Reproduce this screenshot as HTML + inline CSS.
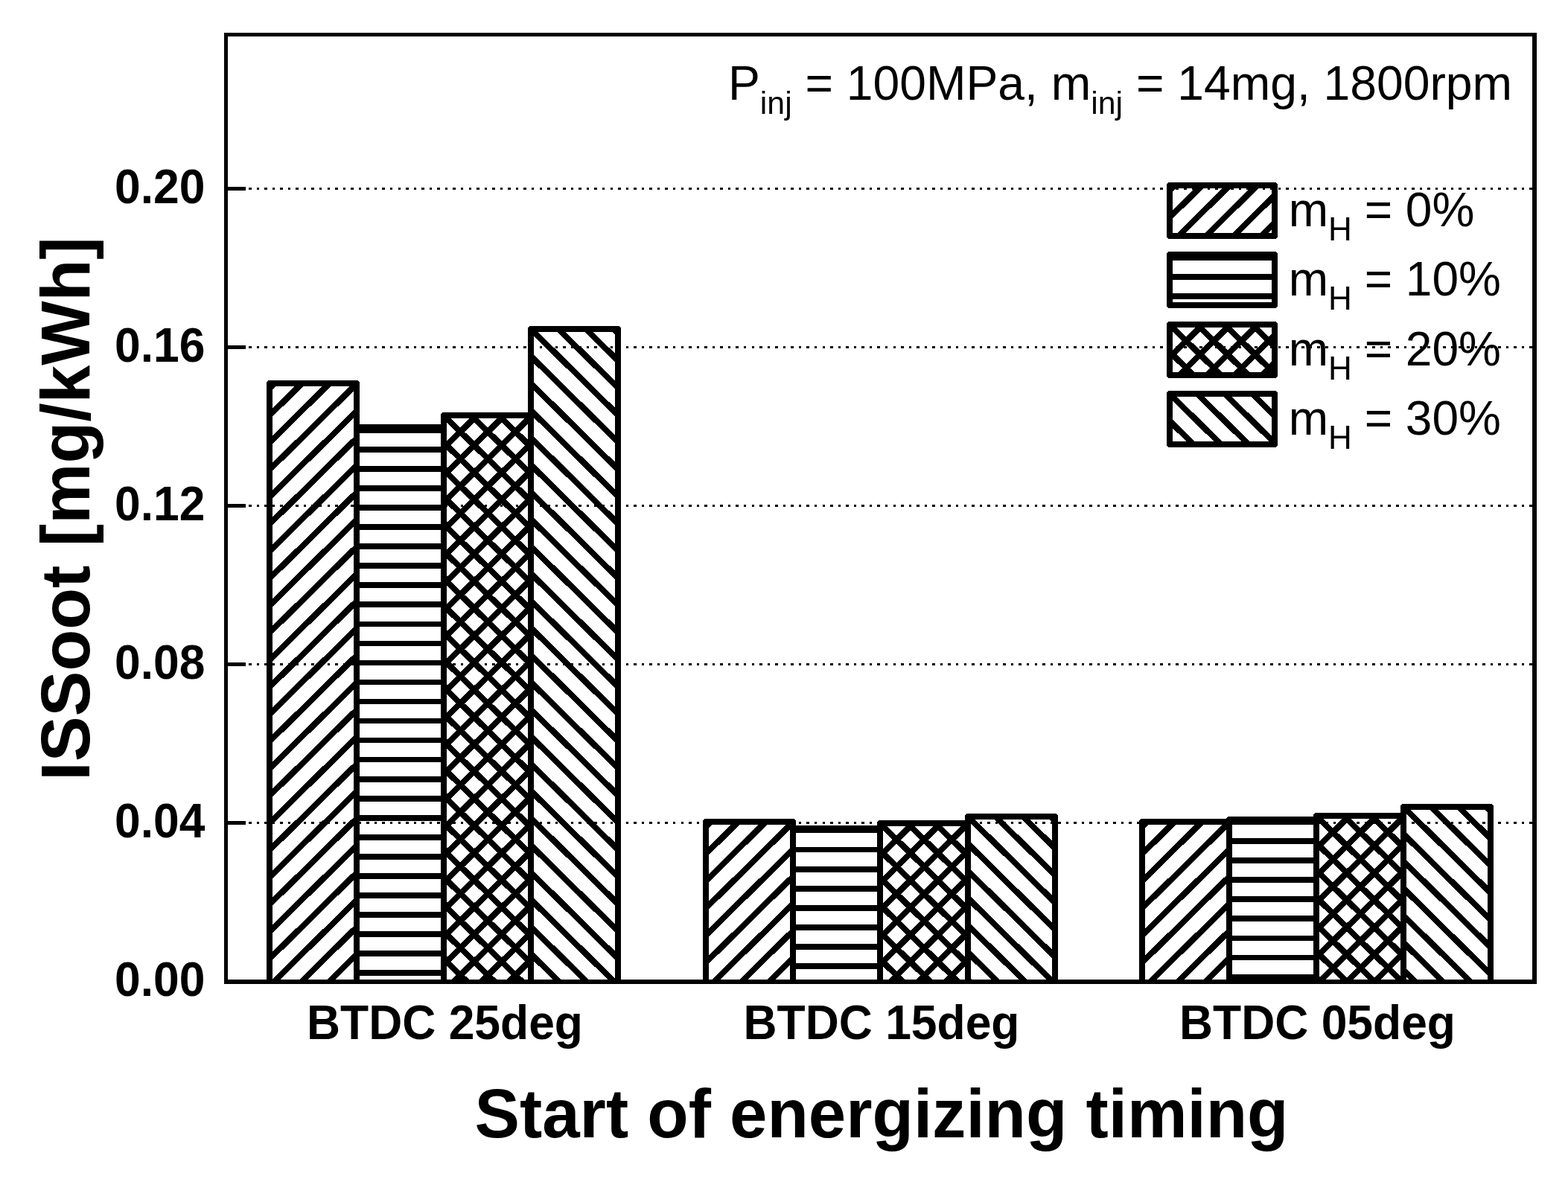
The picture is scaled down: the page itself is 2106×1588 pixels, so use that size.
<!DOCTYPE html>
<html><head><meta charset="utf-8"><title>ISSoot chart</title>
<style>
html,body{margin:0;padding:0;background:#fff;width:2106px;height:1588px;overflow:hidden}
svg{display:block}
.ce path,.ce rect,.ce line{shape-rendering:crispEdges}
.b{font-family:"Liberation Sans",Arial,sans-serif;font-weight:bold;fill:#000}
.r{font-family:"Liberation Sans",Arial,sans-serif;font-weight:normal;fill:#000}
</style></head><body>
<svg class="ce" width="2106" height="1588" viewBox="0 0 2106 1588"><defs><clipPath id="c1"><rect x="362.00" y="515.00" width="117.00" height="804.00"/></clipPath><clipPath id="c2"><rect x="479.00" y="574.00" width="117.00" height="745.00"/></clipPath><clipPath id="c3"><rect x="596.00" y="558.00" width="117.00" height="761.00"/></clipPath><clipPath id="c4"><rect x="713.00" y="442.00" width="117.00" height="877.00"/></clipPath><clipPath id="c5"><rect x="948.00" y="1104.00" width="117.00" height="215.00"/></clipPath><clipPath id="c6"><rect x="1065.00" y="1113.00" width="117.00" height="206.00"/></clipPath><clipPath id="c7"><rect x="1182.00" y="1106.00" width="118.00" height="213.00"/></clipPath><clipPath id="c8"><rect x="1300.00" y="1097.00" width="117.00" height="222.00"/></clipPath><clipPath id="c9"><rect x="1534.00" y="1104.00" width="117.00" height="215.00"/></clipPath><clipPath id="c10"><rect x="1651.00" y="1101.00" width="117.00" height="218.00"/></clipPath><clipPath id="c11"><rect x="1768.00" y="1096.00" width="117.00" height="223.00"/></clipPath><clipPath id="c12"><rect x="1885.00" y="1084.00" width="117.00" height="235.00"/></clipPath><clipPath id="c13"><rect x="1571.00" y="249.00" width="141.00" height="68.00"/></clipPath><clipPath id="c14"><rect x="1571.00" y="342.00" width="141.00" height="68.00"/></clipPath><clipPath id="c15"><rect x="1571.00" y="436.00" width="141.00" height="68.00"/></clipPath><clipPath id="c16"><rect x="1571.00" y="529.00" width="141.00" height="68.00"/></clipPath></defs><rect width="2106" height="1588" fill="#fff"/><path clip-path="url(#c1)" d="M335.30 475.00L-560.81 1359.00M372.30 475.00L-523.81 1359.00M409.30 475.00L-486.81 1359.00M446.30 475.00L-449.81 1359.00M483.30 475.00L-412.81 1359.00M520.30 475.00L-375.81 1359.00M557.30 475.00L-338.81 1359.00M594.30 475.00L-301.81 1359.00M631.30 475.00L-264.81 1359.00M668.30 475.00L-227.81 1359.00M705.30 475.00L-190.81 1359.00M742.30 475.00L-153.81 1359.00M779.30 475.00L-116.81 1359.00M816.30 475.00L-79.81 1359.00M853.30 475.00L-42.81 1359.00M890.30 475.00L-5.81 1359.00M927.30 475.00L31.19 1359.00M964.30 475.00L68.19 1359.00M1001.30 475.00L105.19 1359.00M1038.30 475.00L142.19 1359.00M1075.30 475.00L179.19 1359.00M1112.30 475.00L216.19 1359.00M1149.30 475.00L253.19 1359.00M1186.30 475.00L290.19 1359.00M1223.30 475.00L327.19 1359.00M1260.30 475.00L364.19 1359.00M1297.30 475.00L401.19 1359.00M1334.30 475.00L438.19 1359.00M1371.30 475.00L475.19 1359.00M1408.30 475.00L512.19 1359.00" stroke="#000" stroke-width="8.00" fill="none"/>
<path d="M362.00 1319.00V515.00H479.00V1319.00" fill="none" stroke="#000" stroke-width="8.0" stroke-linejoin="round"/>
<path clip-path="url(#c2)" d="M469.00 525.70H606.00M469.00 551.75H606.00M469.00 577.80H606.00M469.00 603.85H606.00M469.00 629.90H606.00M469.00 655.95H606.00M469.00 682.00H606.00M469.00 708.05H606.00M469.00 734.10H606.00M469.00 760.15H606.00M469.00 786.20H606.00M469.00 812.25H606.00M469.00 838.30H606.00M469.00 864.35H606.00M469.00 890.40H606.00M469.00 916.45H606.00M469.00 942.50H606.00M469.00 968.55H606.00M469.00 994.60H606.00M469.00 1020.65H606.00M469.00 1046.70H606.00M469.00 1072.75H606.00M469.00 1098.80H606.00M469.00 1124.85H606.00M469.00 1150.90H606.00M469.00 1176.95H606.00M469.00 1203.00H606.00M469.00 1229.05H606.00M469.00 1255.10H606.00M469.00 1281.15H606.00M469.00 1307.20H606.00M469.00 1333.25H606.00M469.00 1359.30H606.00" stroke="#000" stroke-width="7.60" fill="none"/>
<path d="M479.00 1319.00V574.00H596.00V1319.00" fill="none" stroke="#000" stroke-width="8.0" stroke-linejoin="round"/>
<path clip-path="url(#c3)" d="M570.22 518.00L-282.30 1359.00M607.22 518.00L-245.30 1359.00M644.22 518.00L-208.30 1359.00M681.22 518.00L-171.30 1359.00M718.22 518.00L-134.30 1359.00M755.22 518.00L-97.30 1359.00M792.22 518.00L-60.30 1359.00M829.22 518.00L-23.30 1359.00M866.22 518.00L13.70 1359.00M903.22 518.00L50.70 1359.00M940.22 518.00L87.70 1359.00M977.22 518.00L124.70 1359.00M1014.22 518.00L161.70 1359.00M1051.22 518.00L198.70 1359.00M1088.22 518.00L235.70 1359.00M1125.22 518.00L272.70 1359.00M1162.22 518.00L309.70 1359.00M1199.22 518.00L346.70 1359.00M1236.22 518.00L383.70 1359.00M1273.22 518.00L420.70 1359.00M1310.22 518.00L457.70 1359.00M1347.22 518.00L494.70 1359.00M1384.22 518.00L531.70 1359.00M1421.22 518.00L568.70 1359.00M1458.22 518.00L605.70 1359.00M1495.22 518.00L642.70 1359.00M1532.22 518.00L679.70 1359.00M1569.22 518.00L716.70 1359.00M-258.57 518.00L593.95 1359.00M-221.57 518.00L630.95 1359.00M-184.57 518.00L667.95 1359.00M-147.57 518.00L704.95 1359.00M-110.57 518.00L741.95 1359.00M-73.57 518.00L778.95 1359.00M-36.57 518.00L815.95 1359.00M0.43 518.00L852.95 1359.00M37.43 518.00L889.95 1359.00M74.43 518.00L926.95 1359.00M111.43 518.00L963.95 1359.00M148.43 518.00L1000.95 1359.00M185.43 518.00L1037.95 1359.00M222.43 518.00L1074.95 1359.00M259.43 518.00L1111.95 1359.00M296.43 518.00L1148.95 1359.00M333.43 518.00L1185.95 1359.00M370.43 518.00L1222.95 1359.00M407.43 518.00L1259.95 1359.00M444.43 518.00L1296.95 1359.00M481.43 518.00L1333.95 1359.00M518.43 518.00L1370.95 1359.00M555.43 518.00L1407.95 1359.00M592.42 518.00L1444.95 1359.00M629.42 518.00L1481.95 1359.00M666.42 518.00L1518.95 1359.00M703.43 518.00L1555.95 1359.00M740.43 518.00L1592.95 1359.00" stroke="#000" stroke-width="8.00" fill="none"/>
<path d="M596.00 1319.00V558.00H713.00V1319.00" fill="none" stroke="#000" stroke-width="8.0" stroke-linejoin="round"/>
<path clip-path="url(#c4)" d="M-289.58 402.00L680.53 1359.00M-252.58 402.00L717.53 1359.00M-215.58 402.00L754.53 1359.00M-178.58 402.00L791.53 1359.00M-141.58 402.00L828.53 1359.00M-104.58 402.00L865.53 1359.00M-67.58 402.00L902.53 1359.00M-30.58 402.00L939.53 1359.00M6.42 402.00L976.53 1359.00M43.42 402.00L1013.53 1359.00M80.42 402.00L1050.53 1359.00M117.42 402.00L1087.53 1359.00M154.42 402.00L1124.53 1359.00M191.42 402.00L1161.53 1359.00M228.42 402.00L1198.53 1359.00M265.42 402.00L1235.53 1359.00M302.42 402.00L1272.53 1359.00M339.42 402.00L1309.53 1359.00M376.42 402.00L1346.53 1359.00M413.42 402.00L1383.53 1359.00M450.42 402.00L1420.53 1359.00M487.42 402.00L1457.53 1359.00M524.42 402.00L1494.53 1359.00M561.42 402.00L1531.53 1359.00M598.42 402.00L1568.53 1359.00M635.42 402.00L1605.53 1359.00M672.42 402.00L1642.53 1359.00M709.42 402.00L1679.53 1359.00M746.42 402.00L1716.53 1359.00M783.42 402.00L1753.53 1359.00M820.42 402.00L1790.53 1359.00M857.42 402.00L1827.53 1359.00" stroke="#000" stroke-width="8.00" fill="none"/>
<path d="M713.00 1319.00V442.00H830.00V1319.00" fill="none" stroke="#000" stroke-width="8.0" stroke-linejoin="round"/>
<path clip-path="url(#c5)" d="M921.30 1064.00L622.26 1359.00M958.30 1064.00L659.26 1359.00M995.30 1064.00L696.26 1359.00M1032.30 1064.00L733.26 1359.00M1069.30 1064.00L770.26 1359.00M1106.30 1064.00L807.26 1359.00M1143.30 1064.00L844.26 1359.00M1180.30 1064.00L881.26 1359.00M1217.30 1064.00L918.26 1359.00M1254.30 1064.00L955.26 1359.00M1291.30 1064.00L992.26 1359.00M1328.30 1064.00L1029.26 1359.00M1365.30 1064.00L1066.26 1359.00" stroke="#000" stroke-width="8.00" fill="none"/>
<path d="M948.00 1319.00V1104.00H1065.00V1319.00" fill="none" stroke="#000" stroke-width="8.0" stroke-linejoin="round"/>
<path clip-path="url(#c6)" d="M1055.00 1063.50H1192.00M1055.00 1089.55H1192.00M1055.00 1115.60H1192.00M1055.00 1141.65H1192.00M1055.00 1167.70H1192.00M1055.00 1193.75H1192.00M1055.00 1219.80H1192.00M1055.00 1245.85H1192.00M1055.00 1271.90H1192.00M1055.00 1297.95H1192.00M1055.00 1324.00H1192.00M1055.00 1350.05H1192.00" stroke="#000" stroke-width="7.60" fill="none"/>
<path d="M1065.00 1319.00V1113.00H1182.00V1319.00" fill="none" stroke="#000" stroke-width="8.0" stroke-linejoin="round"/>
<path clip-path="url(#c7)" d="M1156.22 1066.00L859.21 1359.00M1193.22 1066.00L896.21 1359.00M1230.22 1066.00L933.21 1359.00M1267.22 1066.00L970.21 1359.00M1304.23 1066.00L1007.21 1359.00M1341.23 1066.00L1044.21 1359.00M1378.23 1066.00L1081.21 1359.00M1415.23 1066.00L1118.21 1359.00M1452.23 1066.00L1155.21 1359.00M1489.23 1066.00L1192.21 1359.00M1526.23 1066.00L1229.21 1359.00M1563.23 1066.00L1266.21 1359.00M1600.23 1066.00L1303.21 1359.00M882.43 1066.00L1179.44 1359.00M919.43 1066.00L1216.44 1359.00M956.43 1066.00L1253.44 1359.00M993.43 1066.00L1290.44 1359.00M1030.43 1066.00L1327.44 1359.00M1067.43 1066.00L1364.44 1359.00M1104.43 1066.00L1401.44 1359.00M1141.43 1066.00L1438.44 1359.00M1178.43 1066.00L1475.44 1359.00M1215.43 1066.00L1512.44 1359.00M1252.43 1066.00L1549.44 1359.00M1289.43 1066.00L1586.44 1359.00M1326.43 1066.00L1623.44 1359.00" stroke="#000" stroke-width="8.00" fill="none"/>
<path d="M1182.00 1319.00V1106.00H1300.00V1319.00" fill="none" stroke="#000" stroke-width="8.0" stroke-linejoin="round"/>
<path clip-path="url(#c8)" d="M963.43 1057.00L1269.56 1359.00M1000.43 1057.00L1306.56 1359.00M1037.43 1057.00L1343.56 1359.00M1074.43 1057.00L1380.56 1359.00M1111.43 1057.00L1417.56 1359.00M1148.43 1057.00L1454.56 1359.00M1185.43 1057.00L1491.56 1359.00M1222.43 1057.00L1528.56 1359.00M1259.43 1057.00L1565.56 1359.00M1296.43 1057.00L1602.56 1359.00M1333.43 1057.00L1639.56 1359.00M1370.43 1057.00L1676.56 1359.00M1407.43 1057.00L1713.56 1359.00M1444.43 1057.00L1750.56 1359.00" stroke="#000" stroke-width="8.00" fill="none"/>
<path d="M1300.00 1319.00V1097.00H1417.00V1319.00" fill="none" stroke="#000" stroke-width="8.0" stroke-linejoin="round"/>
<path clip-path="url(#c9)" d="M1507.30 1064.00L1208.26 1359.00M1544.30 1064.00L1245.26 1359.00M1581.30 1064.00L1282.26 1359.00M1618.30 1064.00L1319.26 1359.00M1655.30 1064.00L1356.26 1359.00M1692.30 1064.00L1393.26 1359.00M1729.30 1064.00L1430.26 1359.00M1766.30 1064.00L1467.26 1359.00M1803.30 1064.00L1504.26 1359.00M1840.30 1064.00L1541.26 1359.00M1877.30 1064.00L1578.26 1359.00M1914.30 1064.00L1615.26 1359.00M1951.30 1064.00L1652.26 1359.00" stroke="#000" stroke-width="8.00" fill="none"/>
<path d="M1534.00 1319.00V1104.00H1651.00V1319.00" fill="none" stroke="#000" stroke-width="8.0" stroke-linejoin="round"/>
<path clip-path="url(#c10)" d="M1641.00 1051.90H1778.00M1641.00 1077.95H1778.00M1641.00 1104.00H1778.00M1641.00 1130.05H1778.00M1641.00 1156.10H1778.00M1641.00 1182.15H1778.00M1641.00 1208.20H1778.00M1641.00 1234.25H1778.00M1641.00 1260.30H1778.00M1641.00 1286.35H1778.00M1641.00 1312.40H1778.00M1641.00 1338.45H1778.00M1641.00 1364.50H1778.00" stroke="#000" stroke-width="7.60" fill="none"/>
<path d="M1651.00 1319.00V1101.00H1768.00V1319.00" fill="none" stroke="#000" stroke-width="8.0" stroke-linejoin="round"/>
<path clip-path="url(#c11)" d="M1742.23 1056.00L1435.07 1359.00M1779.23 1056.00L1472.07 1359.00M1816.23 1056.00L1509.07 1359.00M1853.23 1056.00L1546.07 1359.00M1890.23 1056.00L1583.07 1359.00M1927.23 1056.00L1620.07 1359.00M1964.23 1056.00L1657.07 1359.00M2001.23 1056.00L1694.07 1359.00M2038.23 1056.00L1731.07 1359.00M2075.23 1056.00L1768.07 1359.00M2112.23 1056.00L1805.07 1359.00M2149.23 1056.00L1842.07 1359.00M2186.23 1056.00L1879.07 1359.00M2223.23 1056.00L1916.07 1359.00M1431.43 1056.00L1738.58 1359.00M1468.43 1056.00L1775.58 1359.00M1505.43 1056.00L1812.58 1359.00M1542.43 1056.00L1849.58 1359.00M1579.43 1056.00L1886.58 1359.00M1616.43 1056.00L1923.58 1359.00M1653.43 1056.00L1960.58 1359.00M1690.43 1056.00L1997.58 1359.00M1727.43 1056.00L2034.58 1359.00M1764.43 1056.00L2071.58 1359.00M1801.43 1056.00L2108.58 1359.00M1838.43 1056.00L2145.58 1359.00M1875.43 1056.00L2182.58 1359.00M1912.43 1056.00L2219.58 1359.00" stroke="#000" stroke-width="8.00" fill="none"/>
<path d="M1768.00 1319.00V1096.00H1885.00V1319.00" fill="none" stroke="#000" stroke-width="8.0" stroke-linejoin="round"/>
<path clip-path="url(#c12)" d="M1548.43 1044.00L1867.74 1359.00M1585.43 1044.00L1904.74 1359.00M1622.43 1044.00L1941.74 1359.00M1659.43 1044.00L1978.74 1359.00M1696.43 1044.00L2015.74 1359.00M1733.43 1044.00L2052.74 1359.00M1770.43 1044.00L2089.74 1359.00M1807.43 1044.00L2126.74 1359.00M1844.43 1044.00L2163.74 1359.00M1881.43 1044.00L2200.74 1359.00M1918.43 1044.00L2237.74 1359.00M1955.43 1044.00L2274.74 1359.00M1992.43 1044.00L2311.74 1359.00M2029.43 1044.00L2348.74 1359.00" stroke="#000" stroke-width="8.00" fill="none"/>
<path d="M1885.00 1319.00V1084.00H2002.00V1319.00" fill="none" stroke="#000" stroke-width="8.0" stroke-linejoin="round"/>
<path clip-path="url(#c13)" d="M1544.30 209.00L1394.27 357.00M1581.30 209.00L1431.27 357.00M1618.30 209.00L1468.27 357.00M1655.30 209.00L1505.27 357.00M1692.30 209.00L1542.27 357.00M1729.30 209.00L1579.27 357.00M1766.30 209.00L1616.27 357.00M1803.30 209.00L1653.27 357.00M1840.30 209.00L1690.27 357.00M1877.30 209.00L1727.27 357.00" stroke="#000" stroke-width="8.00" fill="none"/>
<rect x="1571.00" y="249.00" width="141.00" height="68.00" fill="none" stroke="#000" stroke-width="8.0" stroke-linejoin="round"/>
<path clip-path="url(#c14)" d="M1561.00 293.90H1722.00M1561.00 319.95H1722.00M1561.00 346.00H1722.00M1561.00 372.05H1722.00M1561.00 398.10H1722.00M1561.00 424.15H1722.00M1561.00 450.20H1722.00" stroke="#000" stroke-width="7.60" fill="none"/>
<rect x="1571.00" y="342.00" width="141.00" height="68.00" fill="none" stroke="#000" stroke-width="8.0" stroke-linejoin="round"/>
<path clip-path="url(#c15)" d="M1545.22 396.00L1395.20 544.00M1582.22 396.00L1432.20 544.00M1619.22 396.00L1469.20 544.00M1656.22 396.00L1506.20 544.00M1693.22 396.00L1543.20 544.00M1730.22 396.00L1580.20 544.00M1767.22 396.00L1617.20 544.00M1804.22 396.00L1654.20 544.00M1841.22 396.00L1691.20 544.00M1878.22 396.00L1728.20 544.00M1419.43 396.00L1569.45 544.00M1456.43 396.00L1606.45 544.00M1493.43 396.00L1643.45 544.00M1530.43 396.00L1680.45 544.00M1567.43 396.00L1717.45 544.00M1604.43 396.00L1754.45 544.00M1641.43 396.00L1791.45 544.00M1678.43 396.00L1828.45 544.00M1715.43 396.00L1865.45 544.00" stroke="#000" stroke-width="8.00" fill="none"/>
<rect x="1571.00" y="436.00" width="141.00" height="68.00" fill="none" stroke="#000" stroke-width="8.0" stroke-linejoin="round"/>
<path clip-path="url(#c16)" d="M1419.43 489.00L1569.45 637.00M1456.43 489.00L1606.45 637.00M1493.43 489.00L1643.45 637.00M1530.43 489.00L1680.45 637.00M1567.43 489.00L1717.45 637.00M1604.43 489.00L1754.45 637.00M1641.43 489.00L1791.45 637.00M1678.43 489.00L1828.45 637.00M1715.43 489.00L1865.45 637.00" stroke="#000" stroke-width="8.00" fill="none"/>
<rect x="1571.00" y="529.00" width="141.00" height="68.00" fill="none" stroke="#000" stroke-width="8.0" stroke-linejoin="round"/>
<line x1="334" y1="1105.50" x2="2058" y2="1105.50" stroke="#000" stroke-width="3" stroke-dasharray="3.5 7.055"/>
<line x1="334" y1="892.50" x2="2058" y2="892.50" stroke="#000" stroke-width="3" stroke-dasharray="3.5 7.055"/>
<line x1="334" y1="679.50" x2="2058" y2="679.50" stroke="#000" stroke-width="3" stroke-dasharray="3.5 7.055"/>
<line x1="334" y1="466.50" x2="2058" y2="466.50" stroke="#000" stroke-width="3" stroke-dasharray="3.5 7.055"/>
<line x1="334" y1="253.50" x2="2058" y2="253.50" stroke="#000" stroke-width="3" stroke-dasharray="3.5 7.055"/>
<rect x="301" y="44" width="5" height="1278" fill="#000"/>
<rect x="2058" y="44" width="6" height="1278" fill="#000"/>
<rect x="301" y="44" width="1763" height="5" fill="#000"/>
<rect x="301" y="1316" width="1763" height="6" fill="#000"/>
<rect x="306" y="1102.80" width="24" height="5.6" fill="#000"/>
<rect x="306" y="889.80" width="24" height="5.6" fill="#000"/>
<rect x="306" y="676.80" width="24" height="5.6" fill="#000"/>
<rect x="306" y="463.80" width="24" height="5.6" fill="#000"/>
<rect x="306" y="250.80" width="24" height="5.6" fill="#000"/>
<text transform="translate(275.5 1337.80) scale(0.975 1)" class="b" font-size="64" text-anchor="end">0.00</text>
<text transform="translate(275.5 1124.80) scale(0.975 1)" class="b" font-size="64" text-anchor="end">0.04</text>
<text transform="translate(275.5 911.80) scale(0.975 1)" class="b" font-size="64" text-anchor="end">0.08</text>
<text transform="translate(275.5 698.80) scale(0.975 1)" class="b" font-size="64" text-anchor="end">0.12</text>
<text transform="translate(275.5 485.80) scale(0.975 1)" class="b" font-size="64" text-anchor="end">0.16</text>
<text transform="translate(275.5 272.80) scale(0.975 1)" class="b" font-size="64" text-anchor="end">0.20</text>
<text transform="translate(597.50 1396) scale(0.975 1)" class="b" font-size="64" text-anchor="middle">BTDC 25deg</text>
<text transform="translate(1184.00 1396) scale(0.975 1)" class="b" font-size="64" text-anchor="middle">BTDC 15deg</text>
<text transform="translate(1769.50 1396) scale(0.975 1)" class="b" font-size="64" text-anchor="middle">BTDC 05deg</text>
<text transform="translate(1184 1527.5) scale(0.975 1)" class="b" font-size="93" text-anchor="middle">Start of energizing timing</text>
<text transform="translate(120 683.5) rotate(-90) scale(0.982 1)" class="b" font-size="93" text-anchor="middle">ISSoot [mg/kWh]</text>
<text transform="translate(978 133.8) scale(1.0035 1)" class="r" font-size="64">P<tspan font-size="42.67" dy="19">inj</tspan><tspan dy="-19"> = 100MPa, m</tspan><tspan font-size="42.67" dy="19">inj</tspan><tspan dy="-19"> = 14mg, 1800rpm</tspan></text>
<text x="1730.8" y="304.30" class="r" font-size="64">m<tspan font-size="44" dy="18.6">H</tspan><tspan dy="-18.6" dx="-1"> = 0%</tspan></text>
<text x="1730.8" y="397.30" class="r" font-size="64">m<tspan font-size="44" dy="18.6">H</tspan><tspan dy="-18.6" dx="-1"> = 10%</tspan></text>
<text x="1730.8" y="491.30" class="r" font-size="64">m<tspan font-size="44" dy="18.6">H</tspan><tspan dy="-18.6" dx="-1"> = 20%</tspan></text>
<text x="1730.8" y="584.30" class="r" font-size="64">m<tspan font-size="44" dy="18.6">H</tspan><tspan dy="-18.6" dx="-1"> = 30%</tspan></text></svg>
</body></html>
